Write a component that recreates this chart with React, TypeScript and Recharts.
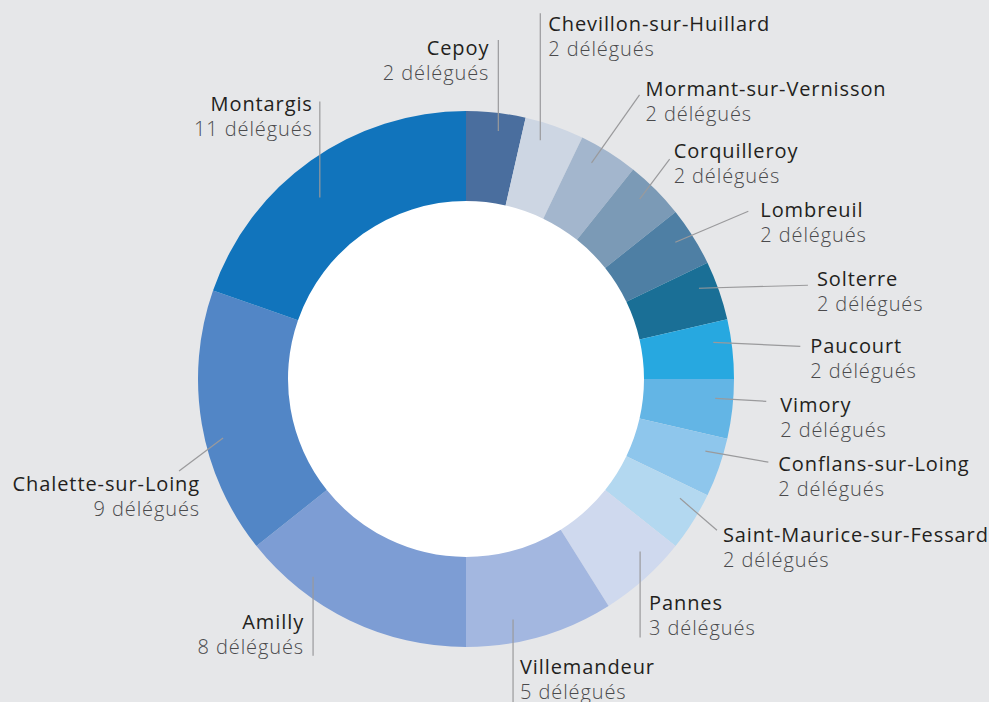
import { PieChart, Pie, Cell } from 'recharts';

const communes = [
  'Cepoy',
  'Chevillon-sur-Huillard',
  'Mormant-sur-Vernisson',
  'Corquilleroy',
  'Lombreuil',
  'Solterre',
  'Paucourt',
  'Vimory',
  'Conflans-sur-Loing',
  'Saint-Maurice-sur-Fessard',
  'Pannes',
  'Villemandeur',
  'Amilly',
  'Chalette-sur-Loing',
  'Montargis',
];

const delegues = [2, 2, 2, 2, 2, 2, 2, 2, 2, 2, 3, 5, 8, 9, 11];

const sliceColors = [
  '#4a6e9e',
  '#cdd6e3',
  '#a3b6cd',
  '#7b9ab6',
  '#4e7fa4',
  '#1a6f96',
  '#27a8e0',
  '#63b5e5',
  '#8ec6ec',
  '#b3d8f0',
  '#cfd9ee',
  '#a3b7e0',
  '#7d9dd4',
  '#5286c6',
  '#1174bc',
];

// leader line tweaks: angle shift (deg, clockwise), start radius, line vector, text offset from line end
const labelLayout = [
  { shift: 1, r: 250, dx: 0, dy: -91, tx: -9, ty: 15, anchor: 'end' },
  { shift: -2, r: 250, dx: 0, dy: -127, tx: 8, ty: 18, anchor: 'start' },
  { shift: -2, r: 250, dx: 48, dy: -68, tx: 6, ty: 1, anchor: 'start' },
  { shift: -1, r: 250, dx: 30, dy: -40, tx: 4, ty: -1, anchor: 'start' },
  { shift: -1, r: 250, dx: 73, dy: -31, tx: 12, ty: 6, anchor: 'start' },
  { shift: -2, r: 250, dx: 109, dy: -3, tx: 9, ty: 1, anchor: 'start' },
  { shift: -2, r: 250, dx: 87, dy: 4, tx: 10, ty: 7, anchor: 'start' },
  { shift: -2, r: 250, dx: 51, dy: 3, tx: 14, ty: 11, anchor: 'start' },
  { shift: -2.5, r: 250, dx: 63, dy: 11, tx: 10, ty: 9, anchor: 'start' },
  { shift: -3, r: 245, dx: 37, dy: 32, tx: 6, ty: 12, anchor: 'start' },
  { shift: -3.5, r: 245, dx: 0, dy: 86, tx: 9, ty: -27, anchor: 'start' },
  { shift: 5, r: 245, dx: 0, dy: 90, tx: 7, ty: -35, anchor: 'start' },
  { shift: 12, r: 250, dx: 0, dy: 79, tx: -9, ty: -27, anchor: 'end' },
  { shift: -4, r: 250, dx: -44, dy: 33, tx: 21, ty: 20, anchor: 'end' },
  { shift: -3.5, r: 233, dx: 0, dy: -96, tx: -7, ty: 9, anchor: 'end' },
];

const data = communes.map((name, i) => ({ name, value: delegues[i] }));

const FONT = '"Open Sans", Lato, sans-serif';

function renderLabel(props: any) {
  const { cx, cy, midAngle, index, name, value } = props;
  const lay = labelLayout[index];
  const theta = ((90 - midAngle + lay.shift) * Math.PI) / 180;
  const x0 = cx + lay.r * Math.sin(theta);
  const y0 = cy - lay.r * Math.cos(theta);
  const x1 = x0 + lay.dx;
  const y1 = y0 + lay.dy;
  const tx = x1 + lay.tx;
  const ty = y1 + lay.ty;
  return (
    <g key={`lbl-${index}`}>
      <line x1={x0} y1={y0} x2={x1} y2={y1} stroke="#9a9a9c" strokeWidth={1.2} />
      <text
        x={tx}
        y={ty}
        textAnchor={lay.anchor}
        fill="#231f20"
        fontFamily={FONT}
        fontSize={20}
        fontWeight={500}
        letterSpacing={0.9}
      >
        {name}
      </text>
      <text
        x={tx}
        y={ty + 25}
        textAnchor={lay.anchor}
        fill="#4a4a4c"
        fontFamily={FONT}
        fontSize={20}
        fontWeight={300}
        letterSpacing={0.9}
      >
        {`${value} délégués`}
      </text>
    </g>
  );
}

export default function App() {
  return (
    <div style={{ position: 'absolute', left: 0, top: 0, width: 989, height: 702, background: '#e6e7e9' }}>
      <PieChart width={989} height={702} margin={{ top: 0, right: 0, bottom: 0, left: 0 }}>
        <Pie
          data={[{ name: 'centre', value: 1 }]}
          dataKey="value"
          cx={466}
          cy={379}
          outerRadius={179}
          fill="#ffffff"
          stroke="none"
          isAnimationActive={false}
        />
        <Pie
          data={data}
          dataKey="value"
          nameKey="name"
          cx={466}
          cy={379}
          innerRadius={178}
          outerRadius={268}
          startAngle={90}
          endAngle={-270}
          stroke="none"
          label={renderLabel}
          labelLine={false}
          isAnimationActive={false}
        >
          {data.map((d, i) => (
            <Cell key={d.name} fill={sliceColors[i]} />
          ))}
        </Pie>
      </PieChart>
    </div>
  );
}
